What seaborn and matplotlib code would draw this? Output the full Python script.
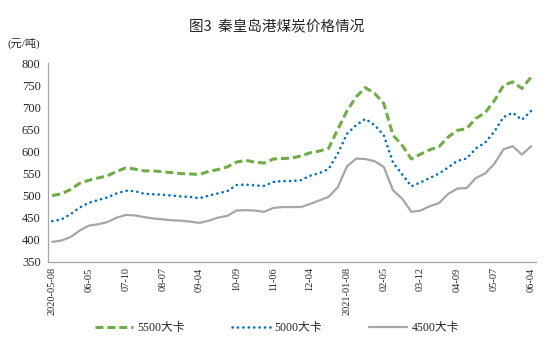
import numpy as np
import pandas as pd
import matplotlib
matplotlib.use('Agg')
import matplotlib.pyplot as plt
import seaborn as sns

# x labels (every 4th week shown)
tick_labels = ['2020-05-08', '06-05', '07-10', '08-07', '09-04', '10-09', '11-06',
               '12-04', '2021-01-08', '02-05', '03-12', '04-09', '05-07', '06-04']

p5500 = [500, 504, 514, 528, 535, 540, 545, 555, 563, 560, 556, 556, 554, 552, 550, 549,
         548, 555, 559, 565, 576, 580, 576, 574, 583, 584, 585, 590, 597, 601, 607, 650,
         692, 724, 745, 732, 709, 637, 614, 583, 594, 604, 611, 633, 648, 652, 675, 688,
         715, 750, 758, 743, 769]
p5000 = [442, 446, 458, 473, 484, 490, 496, 505, 511, 510, 504, 503, 502, 500, 498, 497,
         494, 500, 505, 510, 524, 525, 523, 522, 531, 533, 533, 535, 545, 551, 560, 595,
         640, 660, 674, 660, 637, 575, 548, 521, 530, 540, 550, 564, 579, 584, 607, 620,
         645, 678, 688, 672, 692]
p4500 = [395, 398, 406, 421, 432, 435, 440, 450, 456, 455, 451, 448, 446, 444, 443, 441,
         438, 443, 450, 454, 466, 467, 466, 463, 472, 474, 474, 474, 481, 489, 497, 519,
         566, 584, 583, 578, 565, 512, 493, 463, 466, 476, 483, 504, 516, 517, 540, 550,
         572, 605, 612, 593, 612]

df = pd.DataFrame({'idx': np.arange(len(p5500)), '5500大卡': p5500,
                   '5000大卡': p5000, '4500大卡': p4500})

sns.set_style('white')
plt.rcParams['font.family'] = ['Liberation Serif', 'Noto Sans CJK SC', 'DejaVu Sans']

fig = plt.figure(figsize=(5.54, 3.58), dpi=100)
ax = fig.add_axes([0.086, 0.269, 0.881, 0.554])

sns.lineplot(data=df, x='idx', y='5500大卡', ax=ax, color='#70AD47', lw=2.2,
             linestyle=(0, (2.6, 1.3)), label='5500大卡')
sns.lineplot(data=df, x='idx', y='5000大卡', ax=ax, color='#0070C0', lw=1.9,
             linestyle=(0, (0.05, 2.0)), dash_capstyle='round', label='5000大卡')
sns.lineplot(data=df, x='idx', y='4500大卡', ax=ax, color='#A6A6A6', lw=1.6,
             label='4500大卡')

ax.set_xlim(-0.5, 52.5)
ax.set_ylim(350, 800)
ax.set_yticks(range(350, 801, 50))
ax.set_xticks(np.arange(0, 53, 4))
ax.set_xticklabels(tick_labels, rotation=90, fontsize=7.5)
ax.set_xticks(np.arange(0.5, 53, 4), minor=True)
ax.tick_params(axis='x', which='major', length=0, pad=4)
ax.tick_params(axis='x', which='minor', direction='in', length=3, color='#A6A6A6', width=0.8)
ax.tick_params(axis='y', direction='out', length=3, color='#A6A6A6', width=0.8,
               labelsize=9, pad=2)
ax.set_xlabel('')
ax.set_ylabel('')
for s in ['top', 'right']:
    ax.spines[s].set_visible(False)
for s in ['left', 'bottom']:
    ax.spines[s].set_color('#A6A6A6')
    ax.spines[s].set_linewidth(0.9)

fig.text(0.5, 0.925, '图3  秦皇岛港煤炭价格情况', ha='center', va='center', fontsize=10.5,
         family=['Noto Sans CJK SC', 'DejaVu Sans'])
fig.text(0.014, 0.878, '(元/吨)', ha='left', va='center', fontsize=8,
         family=['Liberation Serif', 'Noto Sans CJK SC'])

ax.legend(loc='center', bbox_to_anchor=(0.5, 0.084), bbox_transform=fig.transFigure,
          ncol=3, frameon=False, fontsize=8.5, handlelength=3.2, handletextpad=0.4,
          columnspacing=4.0)

fig.savefig('out.png', dpi=100)
